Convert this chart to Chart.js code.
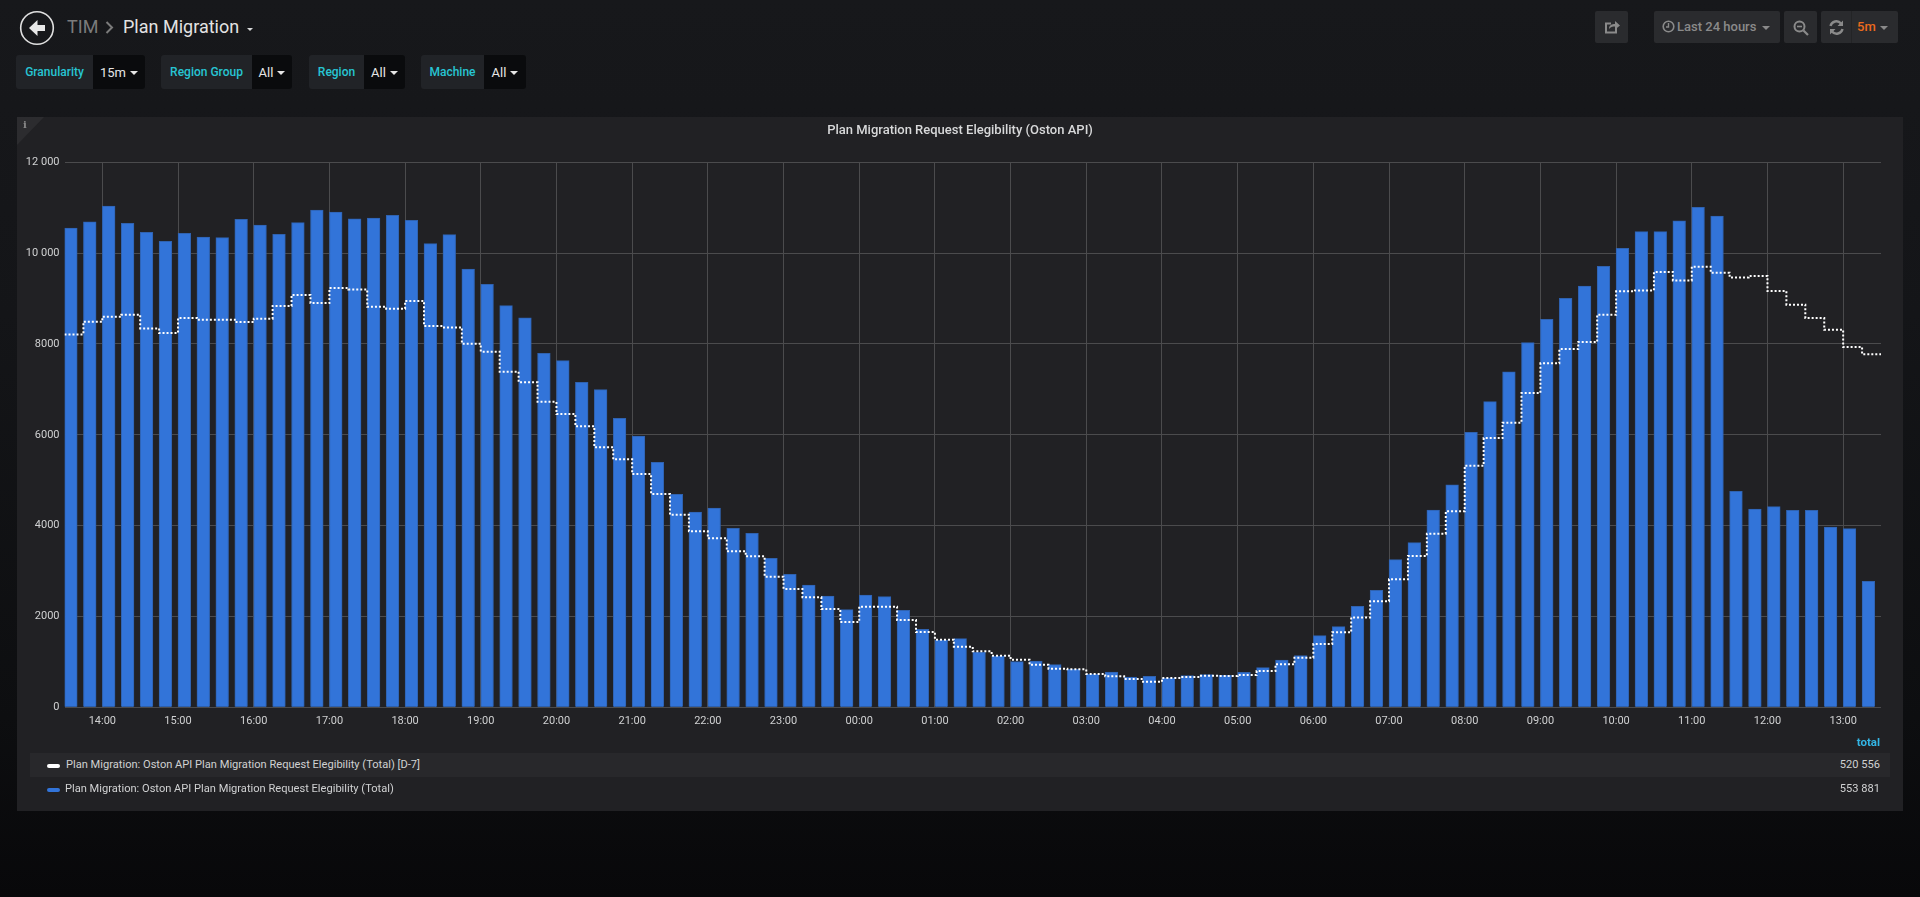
<!DOCTYPE html>
<html>
<head>
  <title>Plan Migration</title>
  <script src="https://cdn.jsdelivr.net/npm/chart.js"></script>
  <style>
    html, body { margin: 0; height: 897px; overflow: hidden; }
    body { background: linear-gradient(#17181b, #141518 35%, #0d0e10 80%, #08080a); font-family: Roboto, sans-serif; color: #d8d9da; position: relative; width: 1920px; }
    .abs { position: absolute; white-space: nowrap; }
    .btn { position: absolute; top: 11px; height: 32px; background: #2a2b2e; border-radius: 2px; }
    .varlabel { position: absolute; top: 55px; height: 34px; line-height: 34px; background: #212327; color: #27c5d3; font-size: 12px; font-weight: 500; text-align: center; border-radius: 3px 0 0 3px; }
    .varvalue { position: absolute; top: 55px; height: 34px; line-height: 35px; background: #0a0b0d; color: #e6e6e6; font-size: 13px; text-align: center; border-radius: 0 3px 3px 0; }
    .caret { display: inline-block; margin-left: 4px; width: 0; height: 0; border-left: 4px solid transparent; border-right: 4px solid transparent; border-top: 4px solid currentColor; vertical-align: 2px; }
    #panel { position: absolute; left: 17px; top: 117px; width: 1886px; height: 694px; background: #212124; }
    #panel canvas { position: absolute; left: 0; top: 0; }
    #corner { position: absolute; left: 0; top: 0; width: 0; height: 0; border-top: 28px solid #2c2c2f; border-right: 27px solid transparent; }
    .legrow { position: absolute; left: 13px; width: 1860px; height: 24px; line-height: 24px; font-size: 11.1px; color: #d0d1d2; }
    .swatch { position: absolute; width: 12.5px; height: 4px; border-radius: 2px; top: 11px; }
  </style>
</head>
<body>
  <!-- top bar -->
  <svg class="abs" style="left:19px;top:10px" width="36" height="36" viewBox="0 0 36 36">
    <circle cx="18" cy="18" r="16.3" fill="none" stroke="#e0e0e0" stroke-width="1.6"/>
    <path d="M18.5 10 L10 18 L18.5 26 L18.5 21 L26 21 L26 15 L18.5 15 Z" fill="#e8e8e8"/>
  </svg>
  <div class="abs" style="left:67px;top:16px;font-size:18px;color:#7b7b7b">TIM</div>
  <svg class="abs" style="left:105px;top:21px" width="9" height="13" viewBox="0 0 9 13"><path d="M1.5 1 L7 6.5 L1.5 12" fill="none" stroke="#7b7b7b" stroke-width="2"/></svg>
  <div class="abs" style="left:123px;top:16px;font-size:18px;color:#e3e3e3">Plan Migration</div>
  <div class="abs" style="left:247px;top:28px;width:0;height:0;border-left:3.5px solid transparent;border-right:3.5px solid transparent;border-top:3.5px solid #d8d9da"></div>

  <div class="btn" style="left:1595px;width:33px">
    <svg style="position:absolute;left:9px;top:8px" width="16" height="16" viewBox="0 0 16 16"><path d="M12 9 v4.5 h-10 v-9 h5" fill="none" stroke="#8a8a8a" stroke-width="2"/><path d="M5 10 C5 6 8 5 11 5 V2 L16 6.5 L11 10.5 V7.5 C8.5 7.5 6.5 8 5 10 Z" fill="#8a8a8a"/></svg>
  </div>
  <div class="btn" style="left:1654px;width:126px;color:#8a8a8a;font-size:13px;font-weight:500;line-height:32px">
    <svg style="position:absolute;left:8px;top:9px" width="13" height="13" viewBox="0 0 13 13"><circle cx="6.5" cy="6.5" r="5.3" fill="none" stroke="#8a8a8a" stroke-width="1.6"/><path d="M6.5 3 V7 H4" fill="none" stroke="#8a8a8a" stroke-width="1.4"/></svg>
    <span style="position:absolute;left:23px">Last 24 hours</span>
    <span style="position:absolute;left:108px;top:15px;width:0;height:0;border-left:4px solid transparent;border-right:4px solid transparent;border-top:4px solid #8a8a8a"></span>
  </div>
  <div class="btn" style="left:1784px;width:33px">
    <svg style="position:absolute;left:9px;top:9px" width="16" height="16" viewBox="0 0 16 16"><circle cx="6.5" cy="6.5" r="5" fill="none" stroke="#8a8a8a" stroke-width="2"/><path d="M4 6.5 H9" stroke="#8a8a8a" stroke-width="1.6"/><path d="M10.5 10.5 L15 15" stroke="#8a8a8a" stroke-width="2.2"/></svg>
  </div>
  <div class="btn" style="left:1821px;width:77px">
    <svg style="position:absolute;left:8px;top:9px" width="15" height="15" viewBox="0 0 15 15"><path d="M1.5 6 A6 6 0 0 1 12 3.5" fill="none" stroke="#8a8a8a" stroke-width="2.4"/><path d="M13.5 9 A6 6 0 0 1 3 11.5" fill="none" stroke="#8a8a8a" stroke-width="2.4"/><path d="M14 0.5 V6 H8.5 Z M1 14.5 V9 H6.5 Z" fill="#8a8a8a"/></svg>
    <div style="position:absolute;left:30px;top:0;width:1px;height:32px;background:#232426"></div>
    <span style="position:absolute;left:36px;top:0;line-height:32px;font-size:13px;font-weight:500;color:#eb6a1d">5m</span>
    <span style="position:absolute;left:59px;top:15px;width:0;height:0;border-left:4px solid transparent;border-right:4px solid transparent;border-top:4px solid #8a8a8a"></span>
  </div>

  <!-- template variables -->
  <div class="varlabel" style="left:16px;width:77px">Granularity</div>
  <div class="varvalue" style="left:93px;width:52px">15m<span class="caret"></span></div>
  <div class="varlabel" style="left:161px;width:91px">Region Group</div>
  <div class="varvalue" style="left:252px;width:40px">All<span class="caret"></span></div>
  <div class="varlabel" style="left:309px;width:55px">Region</div>
  <div class="varvalue" style="left:364px;width:41px">All<span class="caret"></span></div>
  <div class="varlabel" style="left:421px;width:63px">Machine</div>
  <div class="varvalue" style="left:484px;width:42px">All<span class="caret"></span></div>

  <div id="panel">
    <canvas id="chart" width="1886" height="694"></canvas>
    <div id="corner"></div>
    <div class="abs" style="left:6px;top:2px;font-size:10px;font-weight:700;color:#8a8a8a;font-family:'DejaVu Serif',serif">i</div>
    <div class="abs" style="left:0;top:5px;width:100%;text-align:center;font-size:13px;font-weight:500;color:#d8d9da" id="title"></div>
    <div class="abs" style="right:23px;top:618px;font-size:11.5px;font-weight:700;color:#33b5e5">total</div>
    <div class="legrow" style="top:636px;background:#28282b">
      <span class="swatch" style="left:17px;background:#fff"></span>
      <span class="abs" style="left:36px" id="leg0"></span>
      <span class="abs" style="right:10px" id="tot0"></span>
    </div>
    <div class="legrow" style="top:660px">
      <span class="swatch" style="left:17px;background:#3274d9"></span>
      <span class="abs" style="left:35px" id="leg1"></span>
      <span class="abs" style="right:10px" id="tot1"></span>
    </div>
  </div>

  <script>
    const panelTitle = 'Plan Migration Request Elegibility (Oston API)';
    const seriesNames = [
      'Plan Migration: Oston API Plan Migration Request Elegibility (Total) [D-7]',
      'Plan Migration: Oston API Plan Migration Request Elegibility (Total)'
    ];
    const seriesTotals = ['520 556', '553 881'];

    // 15 minute buckets, minutes since midnight of the first day (13:30 onwards)
    const firstBucket = 810;
    const bucketMinutes = 15;

    const hourLabels = [
      '14:00', '15:00', '16:00', '17:00', '18:00', '19:00', '20:00', '21:00', '22:00', '23:00',
      '00:00', '01:00', '02:00', '03:00', '04:00', '05:00', '06:00', '07:00', '08:00', '09:00',
      '10:00', '11:00', '12:00', '13:00'
    ];
    const yLabels = ['0', '2000', '4000', '6000', '8000', '10 000', '12 000'];

    const currentValues = [
      10553, 10692, 11037, 10655, 10457, 10259, 10435, 10354, 10340, 10743, 10619, 10413,
      10670, 10949, 10905, 10758, 10773, 10831, 10721, 10208, 10406, 9650, 9312, 8843,
      8578, 7793, 7632, 7155, 6993, 6362, 5973, 5394, 4689, 4300, 4388, 3940,
      3830, 3280, 2928, 2693, 2451, 2150, 2473, 2436, 2135, 1717, 1482, 1511,
      1210, 1130, 1004, 1019, 938, 836, 733, 777, 667, 681, 645, 696,
      718, 703, 770, 872, 1041, 1137, 1577, 1775, 2223, 2575, 3250, 3625,
      4344, 4901, 6054, 6729, 7389, 8028, 8542, 9004, 9275, 9709, 10105, 10472,
      10472, 10714, 11008, 10817, 4755, 4366, 4417, 4336, 4336, 3970, 3933, 2773
    ];
    const lastWeekValues = [
      8211, 8490, 8600, 8644, 8343, 8241, 8571, 8534, 8534, 8483, 8556, 8835,
      9077, 8901, 9231, 9202, 8821, 8777, 8945, 8395, 8365, 8006, 7830, 7389,
      7155, 6725, 6458, 6186, 5724, 5460, 5137, 4696, 4241, 3874, 3720, 3434,
      3324, 2876, 2605, 2421, 2164, 1878, 2216, 2216, 1922, 1658, 1489, 1335,
      1232, 1137, 1048, 938, 850, 836, 733, 681, 623, 564, 645, 667,
      696, 689, 711, 799, 946, 1093, 1393, 1650, 1980, 2333, 2817, 3331,
      3823, 4314, 5320, 5929, 6267, 6920, 7573, 7888, 8043, 8644, 9158, 9180,
      9584, 9400, 9701, 9569, 9466, 9496, 9165, 8865, 8571, 8314, 7932, 7771
    ];

    document.getElementById('title').textContent = panelTitle;
    seriesNames.forEach((n, i) => { document.getElementById('leg' + i).textContent = n; });
    seriesTotals.forEach((n, i) => { document.getElementById('tot' + i).textContent = n; });

    const barPx = 12.7;
    const bucketPx = 18.92;
    // bars start on their timestamp instead of being centered on it
    const barShift = bucketMinutes * (barPx / 2) / bucketPx;
    const bucketTime = i => firstBucket + i * bucketMinutes;

    const linePoints = lastWeekValues.map((v, i) => ({ x: bucketTime(i), y: v }));
    linePoints.push({ x: bucketTime(lastWeekValues.length), y: lastWeekValues[lastWeekValues.length - 1] });

    Chart.defaults.font.family = 'Roboto, sans-serif';
    Chart.defaults.font.size = 11;
    Chart.defaults.color = '#d0d1d2';

    new Chart(document.getElementById('chart').getContext('2d'), {
      data: {
        datasets: [
          {
            type: 'line',
            label: seriesNames[0],
            data: linePoints,
            borderColor: '#ffffff',
            borderWidth: 2,
            borderDash: [2, 2],
            stepped: 'before',
            pointRadius: 0,
            fill: false,
            order: 0
          },
          {
            type: 'bar',
            label: seriesNames[1],
            data: currentValues.map((v, i) => ({ x: bucketTime(i) + barShift, y: v })),
            backgroundColor: '#3274d9',
            borderColor: '#2f62b0',
            borderWidth: 1,
            barThickness: barPx,
            order: 1
          }
        ]
      },
      options: {
        responsive: false,
        animation: false,
        events: [],
        layout: { padding: { left: 0, right: 22, top: 45.3, bottom: 73.7 } },
        plugins: { legend: { display: false }, tooltip: { enabled: false }, title: { display: false } },
        scales: {
          x: {
            type: 'linear',
            min: firstBucket,
            max: firstBucket + 96 * bucketMinutes,
            offset: false,
            afterFit: s => { s.height = 30; },
            // whole hours only, the axis itself starts on a half hour
            afterBuildTicks: s => { s.ticks = hourLabels.map((l, i) => ({ value: 840 + i * 60 })); },
            // bar charts default grid.offset to true, that shifts the lines off the ticks
            grid: { color: '#4b4b4d', lineWidth: 1, drawTicks: false, offset: false },
            border: { display: false },
            ticks: {
              autoSkip: false,
              maxRotation: 0,
              padding: 7,
              callback: (v, i) => hourLabels[i]
            }
          },
          y: {
            min: 0,
            max: 12000,
            afterFit: s => { s.width = 47.5; },
            grid: { color: '#4b4b4d', lineWidth: 1, drawTicks: false },
            border: { display: false },
            ticks: {
              stepSize: 2000,
              padding: 5,
              callback: (v, i) => yLabels[i]
            }
          }
        }
      }
    });
  </script>
</body>
</html>
